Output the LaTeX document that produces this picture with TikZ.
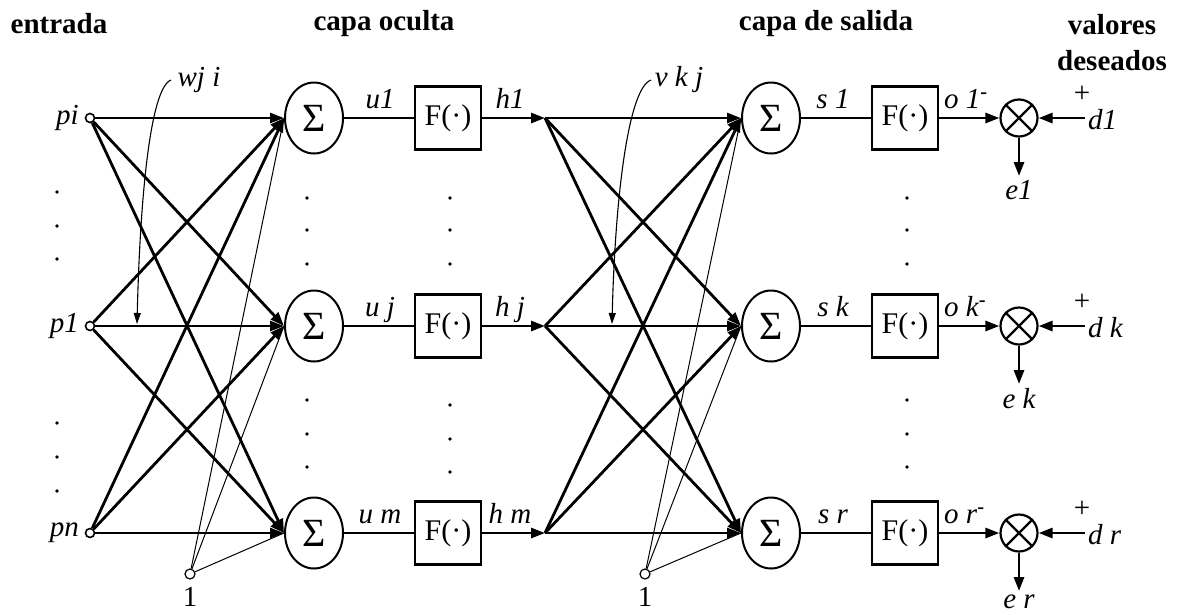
\documentclass[tikz,border=0pt]{standalone}
\usepackage{fontspec}
\setmainfont{Liberation Serif}
\usetikzlibrary{arrows.meta,shapes.geometric}
\begin{document}
\begin{tikzpicture}[x=1pt,y=-1pt,
  sumnode/.style={ellipse,draw,line width=2pt,minimum width=58pt,minimum height=71pt,inner sep=0pt,font=\fontsize{40}{42}\selectfont},
  fbox/.style={rectangle,draw,line width=2.6pt,minimum width=66pt,minimum height=63pt,inner sep=0pt,font=\fontsize{30}{32}\selectfont},
  innode/.style={circle,draw,line width=1.6pt,minimum size=9pt,inner sep=0pt},
  biasnode/.style={circle,draw,line width=1.2pt,minimum size=10pt,inner sep=0pt},
  xnode/.style={circle,draw,line width=2.2pt,minimum size=37pt,inner sep=0pt},
  lbl/.style={font=\fontsize{29}{31}\selectfont\itshape,inner sep=0pt},
  num/.style={font=\fontsize{29}{31}\selectfont,inner sep=0pt},
  ttl/.style={font=\fontsize{29}{31}\selectfont\bfseries,inner sep=0pt},
  conn/.style={line width=2.8pt,-{Triangle[length=14pt,width=10pt]}},
  plainline/.style={line width=2.8pt},
  thinline/.style={line width=1pt},
  thinarrow/.style={line width=1.1pt,-{Triangle[length=11pt,width=7pt]}},
  dotmark/.style={fill=black}
]
\useasboundingbox (0,0) rectangle (1182,614);

% titles
\node[ttl] (t1) at (59,24) {entrada};
\node[ttl] (t2) at (384,24) {capa oculta};
\node[ttl] (t3) at (826,24) {capa de salida};
\node[ttl] (t4) at (1112,25) {valores};
\node[ttl] (t5) at (1112,61) {deseados};

% rows
\foreach \i/\y/\p/\u/\h/\s/\o/\d/\e in {
  1/118/pi/u1/h1/s 1/o 1/d1/e1,
  2/326/p1/u j/h j/s k/o k/d k/e k,
  3/533/pn/u m/h m/s r/o r/d r/e r}{
  \node[innode] (in\i) at (90,\y) {};
  \node[lbl,anchor=east] (pl\i) at (79,\y) {\p};
  \node[sumnode] (hs\i) at (314,\y) {Σ};
  \node[fbox] (hf\i) at (448,\y) {F(·)};
  \coordinate (hh\i) at (545,\y);
  \node[sumnode] (os\i) at (771,\y) {Σ};
  \node[fbox] (of\i) at (905,\y) {F(·)};
  \node[xnode] (ox\i) at (1019,\y) {};
  \coordinate (dd\i) at (1085,\y);
  \coordinate (ee\i) at (1019,\y+58);
  \node[lbl,anchor=base] (ul\i) at (380,\y-10) {\u};
  \node[lbl,anchor=base] (hl\i) at (510,\y-10) {\h};
  \node[lbl,anchor=base] (sl\i) at (833,\y-10) {\s};
  \node[lbl,anchor=base west] (ol\i) at (944,\y-10) {\o\textsuperscript{\upshape\bfseries -}};
  \node[num] (pp\i) at (1082,\y-24) {+};
  \node[lbl,anchor=west] (dl\i) at (1088,\y+2) {\d};
  \node[lbl,anchor=north] (el\i) at (1019,\y+62) {\e};
  % connectors inside the row
  \draw[plainline] (hs\i.east) -- (hf\i.west);
  \draw[conn] (hf\i.east) -- (hh\i);
  \draw[plainline] (os\i.east) -- (of\i.west);
  \draw[conn] (of\i.east) -- (ox\i.west);
  \draw[conn] (dd\i) -- (ox\i.east);
  \draw[conn] (ox\i.south) -- (ee\i);
  \draw[line width=2.2pt] (ox\i.north east) -- (ox\i.south west);
  \draw[line width=2.2pt] (ox\i.north west) -- (ox\i.south east);
}

% bias nodes
\node[biasnode] (b1) at (190,574) {};
\node[num] (bl1) at (190,597) {1};
\node[biasnode] (b2) at (645,574) {};
\node[num] (bl2) at (645,597) {1};

% full connections
\foreach \a in {1,2,3}{
  \foreach \b in {1,2,3}{
    \draw[conn] (in\a) -- (hs\b.west);
    \draw[conn] (hh\a) -- (os\b.west);
  }
  \draw[thinline] (b1) -- (hs\a.west);
  \draw[thinline] (b2) -- (os\a.west);
}

% weight pointers
\node[lbl] (wl) at (199,80) {wj i};
\coordinate (ws) at (171,80);
\coordinate (we) at (137,324);
\draw[thinarrow] (ws) .. controls (150,88) and (140,200) .. (we);
\node[lbl] (vl) at (679,80) {v k j};
\coordinate (vs) at (651,80);
\coordinate (ve) at (612,324);
\draw[thinarrow] (vs) .. controls (628,88) and (615,200) .. (ve);

% dots
\foreach \yy in {192,226,259,423,457,491}{\fill[dotmark] (57,\yy) circle (1.8);}
\foreach \yy in {198,230,264,400,434,467}{\fill[dotmark] (307,\yy) circle (1.8);}
\foreach \yy in {198,230,264,405,439,472}{\fill[dotmark] (450,\yy) circle (1.8);}
\foreach \yy in {198,230,264,400,434,467}{\fill[dotmark] (907,\yy) circle (1.8);}
\end{tikzpicture}
\end{document}
